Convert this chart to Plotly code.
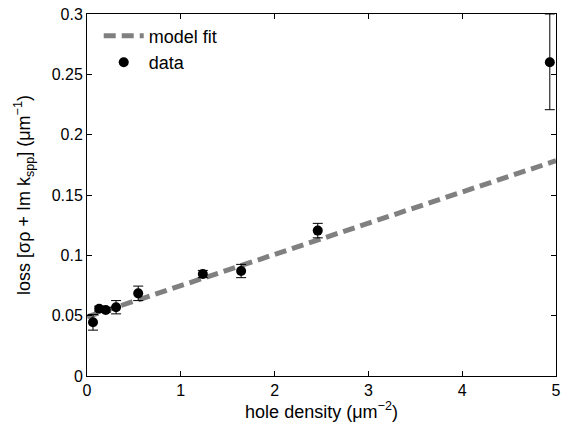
import plotly.graph_objects as go

# data
density = [0.064, 0.13, 0.20, 0.31, 0.546, 1.235, 1.643, 2.46, 4.934]
loss = [0.0445, 0.0558, 0.0547, 0.0570, 0.0685, 0.0845, 0.0870, 0.1205, 0.2600]
err_plus = [0.0065, 0.0020, 0.0020, 0.0055, 0.0060, 0.0030, 0.0055, 0.0060, 0.0400]
err_minus = [0.0065, 0.0020, 0.0020, 0.0055, 0.0060, 0.0030, 0.0055, 0.0060, 0.0393]

fit_x = [0.0, 5.0]
fit_y = [0.049, 0.1784]

x_ticks = [0, 1, 2, 3, 4, 5]
y_ticks = [0, 0.05, 0.1, 0.15, 0.2, 0.25, 0.3]
y_tick_labels = ["0", "0.05", "0.1", "0.15", "0.2", "0.25", "0.3"]

FONT = "Liberation Sans, Arial, sans-serif"

fig = go.Figure()
fig.add_trace(go.Scatter(
    x=fit_x, y=fit_y, mode="lines", name="model fit",
    line=dict(color="#808080", width=5, dash="12px,6px"),
))
fig.add_trace(go.Scatter(
    x=density, y=loss, mode="markers", name="data",
    marker=dict(color="black", size=10, symbol="circle"),
    error_y=dict(type="data", symmetric=False, array=err_plus, arrayminus=err_minus,
                 color="black", thickness=1, width=5),
))

axis_common = dict(
    showgrid=False, zeroline=False, showline=True, linecolor="black", linewidth=1,
    mirror="ticks", ticks="inside", ticklen=5, tickcolor="black",
    tickfont=dict(family=FONT, size=16, color="black"),
)

fig.update_layout(
    width=562, height=424,
    margin=dict(l=87, r=6, t=14, b=48),
    paper_bgcolor="white", plot_bgcolor="white",
    font=dict(family=FONT, size=16, color="black"),
    xaxis=dict(range=[0, 5], tickvals=x_ticks,
               title=dict(text="hole density (μm<sup>−2</sup>)", standoff=2,
                          font=dict(family=FONT, size=18)),
               automargin=False, **axis_common),
    yaxis=dict(range=[0, 0.3], tickvals=y_ticks, ticktext=y_tick_labels,
               title=dict(text="loss [σρ + Im k<sub>spp</sub>] (μm<sup>−1</sup>)", standoff=16,
                          font=dict(family=FONT, size=18)),
               automargin=False, **axis_common),
    legend=dict(x=0.025, y=0.99, xanchor="left", yanchor="top", bgcolor="rgba(0,0,0,0)",
                font=dict(family=FONT, size=18), itemwidth=40, tracegroupgap=0),
    showlegend=True,
)

fig.write_html("out.html", config={"displayModeBar": False},
               post_script="document.body.style.margin='0';")
